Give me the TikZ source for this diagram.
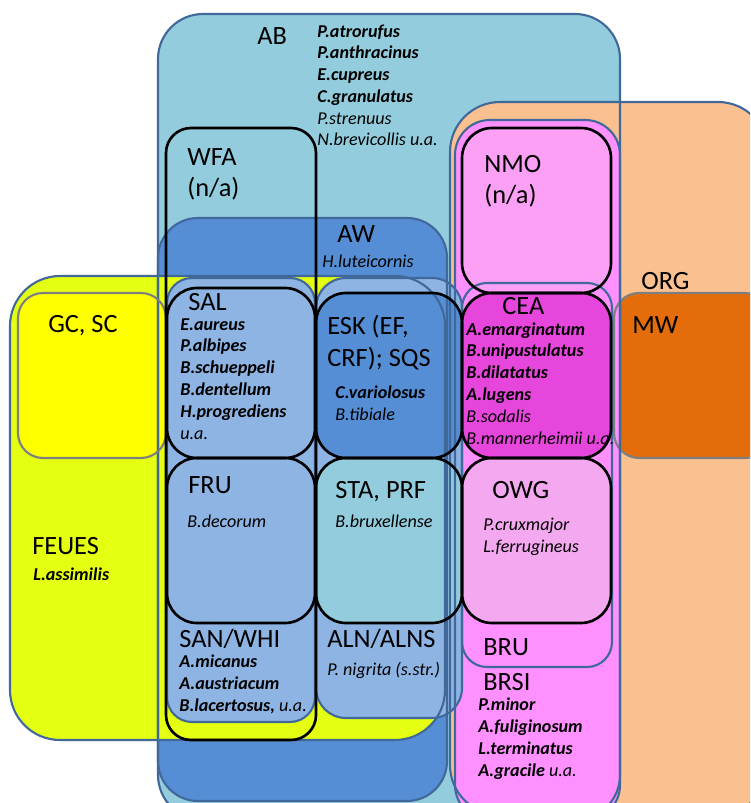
\documentclass[tikz,border=0pt]{standalone}
\usepackage{fontspec}
\setmainfont{Carlito}

\definecolor{abblue}{HTML}{93CDDD}
\definecolor{orgorange}{HTML}{FAC090}
\definecolor{awblue}{HTML}{558ED5}
\definecolor{feuesyellow}{HTML}{E5FF12}
\definecolor{gcyellow}{HTML}{FFFF00}
\definecolor{mworange}{HTML}{E46C0A}
\definecolor{colblue}{HTML}{8EB4E3}
\definecolor{nmopink}{HTML}{FBA0F4}
\definecolor{ceamagenta}{HTML}{E646DC}
\definecolor{owgpink}{HTML}{F4A8F0}
\definecolor{brupink}{HTML}{FF90FF}
\definecolor{edgeblue}{HTML}{41689A}
\definecolor{edgegray}{HTML}{7F7F7F}

\tikzset{
  zonename/.style={anchor=base west, inner sep=0pt, align=left,
    font=\fontsize{15}{18}\selectfont},
  taxa/.style={anchor=base west, inner sep=0pt, align=left,
    font=\fontsize{10.3}{12.4}\selectfont\itshape},
  zone/.style={draw=edgeblue, line width=1.2pt},
  greyzone/.style={draw=edgegray, line width=1.2pt},
  habitat/.style={draw=black, line width=1.5pt},
}

\begin{document}
\begin{tikzpicture}[x=0.02cm, y=-0.02cm]
\useasboundingbox (0,0) rectangle (750,803);
\clip (0,0) rectangle (750,803);
\fill[white] (0,0) rectangle (750,803);

    % Big areas (fills first, edges on top later)
    \fill[abblue, rounded corners=0.9cm] (158,14) rectangle (620,820);
    \fill[orgorange, rounded corners=1cm] (450,102) rectangle (768,815);
    \fill[awblue, rounded corners=0.8cm] (158,218) rectangle (447,801);
    \fill[feuesyellow, rounded corners=1cm] (10,276) rectangle (445,740);
    \fill[gcyellow, rounded corners=0.5cm] (18,293) rectangle (166,458);
    \fill[mworange, rounded corners=0.5cm] (614,293) rectangle (770,458);

    % Pink column
    \fill[brupink, rounded corners=0.7cm] (455,120) rectangle (620,820);
    \fill[brupink, rounded corners=0.5cm] (462,283) rectangle (612,667);

    % Blue columns
    \fill[colblue, rounded corners=0.5cm] (167,278) rectangle (315,722);
    \fill[colblue, rounded corners=0.6cm] (316,278) rectangle (462,718);

    % Habitat boxes
    \fill[colblue, rounded corners=0.6cm] (167,288) rectangle (315,458);
    \fill[colblue, rounded corners=0.6cm] (167,458) rectangle (315,623);
    \fill[awblue, rounded corners=0.6cm] (316,293) rectangle (462,458);
    \fill[abblue, rounded corners=0.6cm] (316,458) rectangle (462,623);
    \fill[nmopink, rounded corners=0.6cm] (462,128) rectangle (611,293);
    \fill[ceamagenta, rounded corners=0.6cm] (462,293) rectangle (611,458);
    \fill[owgpink, rounded corners=0.6cm] (462,458) rectangle (611,623);

    % Edges
    \draw[zone, rounded corners=0.9cm] (158,14) rectangle (620,820);
    \draw[zone, rounded corners=1cm] (450,102) rectangle (768,815);
    \draw[zone, rounded corners=0.8cm] (158,218) rectangle (447,801);
    \draw[zone, rounded corners=1cm] (10,276) rectangle (445,740);
    \draw[greyzone, rounded corners=0.5cm] (18,293) rectangle (166,458);
    \draw[greyzone, rounded corners=0.5cm] (614,293) rectangle (770,458);
    \draw[zone, rounded corners=0.7cm] (455,120) rectangle (620,820);
    \draw[zone, rounded corners=0.5cm] (462,283) rectangle (612,667);
    \draw[zone, rounded corners=0.5cm] (167,278) rectangle (315,722);
    \draw[zone, rounded corners=0.6cm] (316,278) rectangle (462,718);

    \draw[habitat, rounded corners=0.5cm] (166,128) rectangle (316,740);
    \foreach \xa/\ya/\xb/\yb in {167/288/315/458, 167/458/315/623,
        316/293/462/458, 316/458/462/623, 462/128/611/293,
        462/293/611/458, 462/458/611/623}
      \draw[habitat, rounded corners=0.6cm] (\xa,\ya) rectangle (\xb,\yb);

    % Names and species (multi-line nodes sit on their last line)
    \node[zonename] (ab) at (257,45) {AB};
    \node[taxa] (ab-list) at (317,146) {\textbf{P.atrorufus}\\\textbf{P.anthracinus}\\\textbf{E.cupreus}\\\textbf{C.granulatus}\\P.strenuus\\N.brevicollis u.a.};

    \node[zonename] (wfa) at (187,197) {WFA\\(n/a)};
    \node[zonename] (nmo) at (484,204) {NMO\\(n/a)};

    \node[zonename] (aw) at (337,243) {AW};
    \node[taxa] (aw-list) at (322,268) {H.luteicornis};

    \node[zonename] (org) at (641,290) {ORG};
    \node[zonename] (gcsc) at (48,333) {GC, SC};
    \node[zonename] (mw) at (632,334) {MW};

    \node[zonename] (sal) at (188,311) {SAL};
    \node[taxa] (sal-list) at (180,439) {\textbf{E.aureus}\\\textbf{P.albipes}\\\textbf{B.schueppeli}\\\textbf{B.dentellum}\\\textbf{H.progrediens}\\u.a.};

    \node[zonename] (esk) at (327,366) {ESK (EF,\\CRF); SQS};
    \node[taxa] (esk-list) at (335,420) {\textbf{C.variolosus}\\B.tibiale};

    \node[zonename] (cea) at (502,315) {CEA};
    \node[taxa] (cea-list) at (466,444) {\textbf{A.emarginatum}\\\textbf{B.unipustulatus}\\\textbf{B.dilatatus}\\\textbf{A.lugens}\\B.sodalis\\B.mannerheimii u.a.};

    \node[zonename] (fru) at (188,493) {FRU};
    \node[taxa] (fru-list) at (187,527) {B.decorum};

    \node[zonename] (sta) at (335,498) {STA, PRF};
    \node[taxa] (sta-list) at (335,527) {B.bruxellense};

    \node[zonename] (owg) at (492,498) {OWG};
    \node[taxa] (owg-list) at (483,552) {P.cruxmajor\\L.ferrugineus};

    \node[zonename] (feues) at (32,554) {FEUES};
    \node[taxa] (feues-list) at (33,580) {\textbf{L.assimilis}};

    \node[zonename] (san) at (179,647) {SAN/WHI};
    \node[taxa] (san-list) at (179,711) {\textbf{A.micanus}\\\textbf{A.austriacum}\\\textbf{B.lacertosus,} u.a.};

    \node[zonename] (aln) at (327,647) {ALN/ALNS};
    \node[taxa] (aln-list) at (327,675) {P. nigrita (s.str.)};

    \node[zonename] (bru) at (483,655) {BRU};
    \node[zonename] (brsi) at (483,690) {BRSI};
    \node[taxa] (brsi-list) at (478,776) {\textbf{P.minor}\\\textbf{A.fuliginosum}\\\textbf{L.terminatus}\\\textbf{A.gracile} u.a.};

\end{tikzpicture}
\end{document}
